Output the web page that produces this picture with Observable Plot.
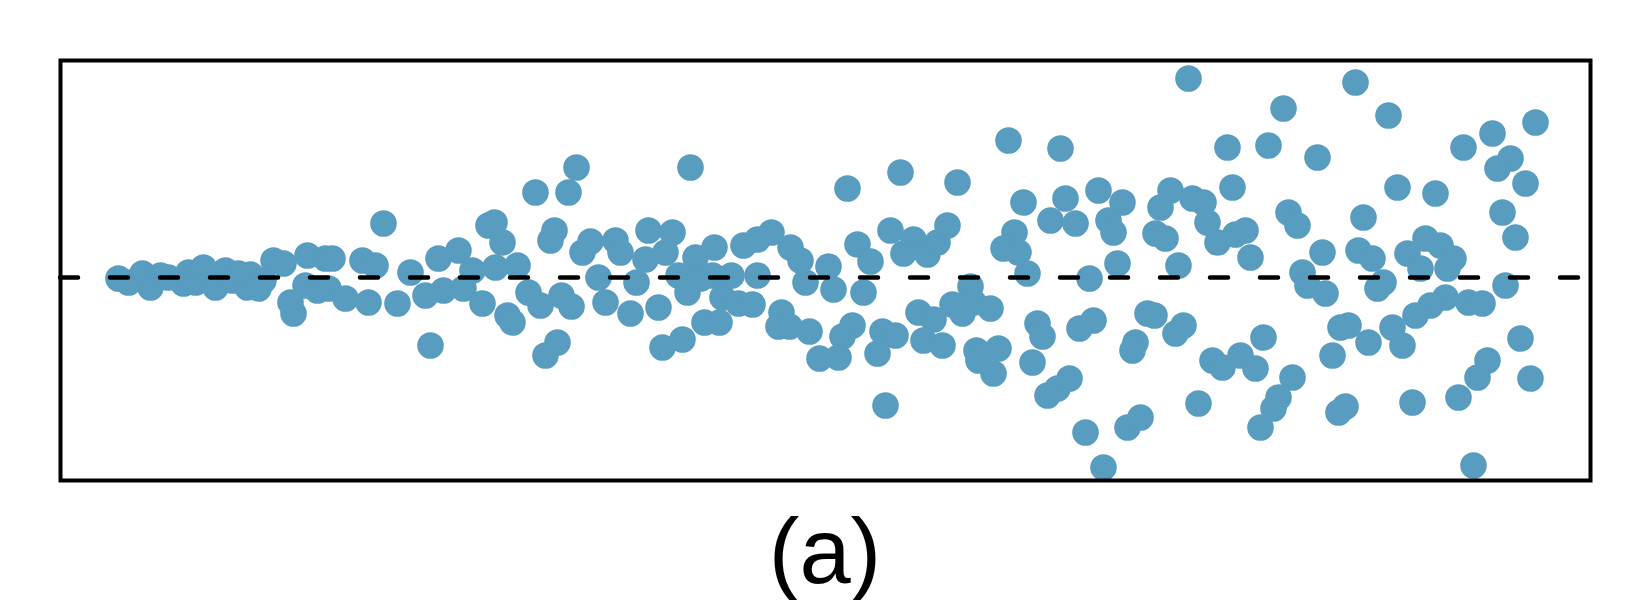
<!DOCTYPE html>
<html>
<head>
<meta charset="utf-8">
<script src="https://cdn.jsdelivr.net/npm/d3@7"></script>
<script src="https://cdn.jsdelivr.net/npm/@observablehq/plot@0.6"></script>
<style>
  html, body { margin: 0; padding: 0; background: #fff; width: 1650px; height: 600px; overflow: hidden; }
  #chart svg { display: block; }
  #caption {
    position: absolute; left: 0; top: 505px; width: 1650px;
    text-align: center; font-family: "Liberation Sans", Arial, sans-serif;
    font-size: 92px; line-height: 92px; color: #000;
  }
</style>
</head>
<body>
<div id="chart"></div>
<div id="caption">(a)</div>
<script>
const xs = [
  58,68,82,90,100,108,123,128,135,143,155,165,172,178,187,190,198,203,213,223,230,233,245,247,257,265,
  272,268,285,302,315,308,323,337,350,365,378,383,398,412,403,422,370,428,434,442,435,457,447,452,468,480,475,490,494,485,497,501,
  516,508,630,530,522,555,560,588,612,585,605,538,576,511,545,570,598,602,622,635,654,618,627,640,652,671,662,644,659,678,692,697,683,697,711,730,740,721,718,729,749,759,
  745,768,773,787,840,897,948,1000,830,797,810,853,843,867,877,887,803,792,782,778,822,835,817,825,858,873,863,882,910,892,902,913,930,916,918,938,933,954,943,958,967,963,990,1005,1015,977,982,972,987,997,1009,1025,1019,1029,
  1128,1223,1167,1208,1257,1172,1038,1062,1048,1053,1110,1100,1132,1143,1147,1095,1105,1157,1175,1185,1190,1057,1118,1228,1237,1262,1242,1247,1265,1033,1087,1094,1075,1072,1115,1123,1152,1162,1180,1195,1203,1067,1080,1043,1138,1232,1218,1213,1200,1272,1280,1278,
  1295,1328,1475,1432,1403,1450,1437,1465,1337,1375,1442,1303,1455,1365,1380,1393,1347,1360,1387,1298,1312,1317,1323,1445,1385,1370,1355,1408,1422,1288,1332,1308,1342,1460,1427,1417,1470,1398,1352,1285,1413
];
const ys = [
  -1,-5,4,-10,2,0,-6,5,-5,10,-10,7,-3,4,-10,3,-11,-3,17,14,-25,-36,-8,22,-13,19,
  19,-11,-21,17,12,-25,54,-26,5,-18,19,-13,27,7,-11,-26,-68,52,55,35,10,12,-38,-45,-15,-28,85,37,47,-78,-65,-18,
  110,85,110,36,25,37,25,47,45,18,25,0,-5,-29,-25,-36,-30,-70,-62,20,30,2,-15,-1,2,2,-20,-45,-45,-26,-27,2,32,38,45,30,17,-35,-49,-49,-54,-81,
  -5,11,-12,89,105,95,137,129,47,33,16,38,24,23,35,52,-15,-48,-59,-80,-54,-58,-76,-128,-35,-42,-63,-68,-9,-27,-36,-25,-31,-73,-83,-71,-96,45,29,25,4,75,57,79,54,-46,-59,-85,-118,-111,-101,-155,-51,-1,
  199,169,130,132,120,90,87,75,57,45,87,70,79,75,55,44,39,35,43,47,20,14,12,65,52,25,5,-8,-16,-43,-36,-38,-65,-73,-56,-48,-83,-90,-78,-91,-60,-150,-140,-190,-126,-100,-120,-131,-150,-78,-50,-135,
  195,162,155,144,130,119,109,94,90,84,65,60,40,39,32,19,24,9,9,27,19,-11,-5,-8,-20,-28,-38,-25,-26,-48,-50,-65,-68,-61,-83,-100,-101,-120,-125,-129,-188
];
const xDomain = [0, 1530];
const yDomain = [-203, 217];

const points = xs.map((x, i) => ({x, y: ys[i]}));

const chart = Plot.plot({
  width: 1650,
  height: 490,
  marginLeft: 60,
  marginRight: 60,
  marginTop: 60,
  marginBottom: 10,
  x: {domain: xDomain, axis: null},
  y: {domain: yDomain, axis: null},
  marks: [
    Plot.dot(points, {x: "x", y: "y", r: 13.3, fill: "#589cc0", stroke: "none"}),
    Plot.ruleY([0], {stroke: "#000", strokeWidth: 4.5, strokeDasharray: "18,32", strokeLinecap: "round"}),
    Plot.frame({stroke: "#000", strokeWidth: 4})
  ]
});
document.getElementById("chart").appendChild(chart);
</script>
</body>
</html>
